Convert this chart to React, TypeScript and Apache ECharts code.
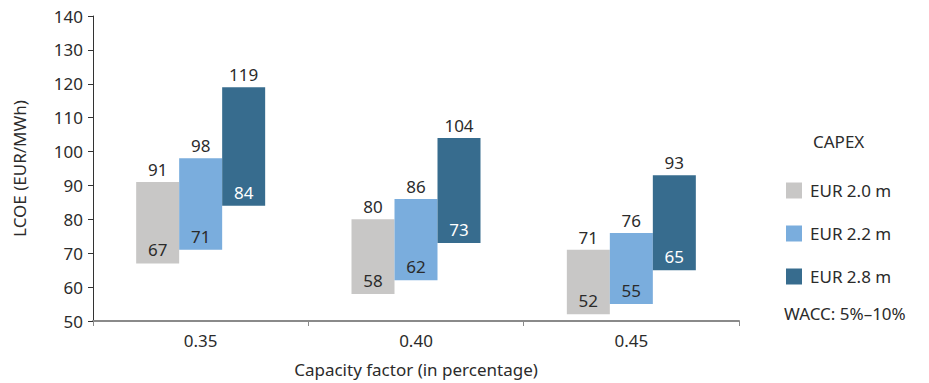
import React, { useEffect, useRef } from "react";
import * as echarts from "echarts";

const categories = ["0.35", "0.40", "0.45"];
const seriesNames = ["EUR 2.0 m", "EUR 2.2 m", "EUR 2.8 m"];
const lowValues = [
  [67, 58, 52],
  [71, 62, 55],
  [84, 73, 65],
];
const highValues = [
  [91, 80, 71],
  [98, 86, 76],
  [119, 104, 93],
];
const colors = ["#C8C7C6", "#7AADDD", "#376C8E"];
const insideLabelColors = ["#2b2b2b", "#2b2b2b", "#ffffff"];

const FONT = "'Noto Sans', sans-serif";
const TXT = "#2b2b2b";
const FS = 17;

export default function App() {
  const ref = useRef<HTMLDivElement>(null);
  useEffect(() => {
    document.body.style.margin = "0";
    if (!ref.current) return;
    const chart = echarts.init(ref.current, undefined, { renderer: "svg" });
    const series: any[] = [];
    seriesNames.forEach((name, i) => {
      const stack = "s" + i;
      series.push({
        name: "base" + i,
        type: "bar",
        stack,
        barWidth: 43,
        barGap: "0%",
        itemStyle: { color: "transparent" },
        emphasis: { disabled: true },
        data: lowValues[i],
        z: 1,
      });
      series.push({
        name,
        type: "bar",
        stack,
        barWidth: 43,
        barGap: "0%",
        itemStyle: { color: colors[i] },
        data: highValues[i].map((h, j) => h - lowValues[i][j]),
        label: {
          show: true,
          position: "insideBottom",
          distance: 5,
          fontFamily: FONT,
          fontSize: FS,
          color: insideLabelColors[i],
          formatter: (p: any) => String(lowValues[i][p.dataIndex]),
        },
      });
      series.push({
        name: "cap" + i,
        type: "bar",
        stack,
        barWidth: 43,
        barGap: "0%",
        itemStyle: { color: "transparent" },
        data: highValues[i].map(() => 0),
        label: {
          show: true,
          position: "top",
          distance: 4,
          fontFamily: FONT,
          fontSize: FS,
          color: TXT,
          formatter: (p: any) => String(highValues[i][p.dataIndex]),
        },
      });
    });
    chart.setOption({
      animation: false,
      textStyle: { fontFamily: FONT },
      grid: { left: 93, right: 190, top: 16, bottom: 61, containLabel: false },
      legend: {
        data: seriesNames,
        orient: "vertical",
        left: 781,
        top: 177,
        itemWidth: 16,
        itemHeight: 16,
        itemGap: 26,
        icon: "rect",
        textStyle: { fontFamily: FONT, fontSize: FS, color: TXT, padding: [0, 0, 0, 3] },
        selectedMode: false,
      },
      graphic: [
        {
          type: "text",
          left: 813,
          top: 133,
          style: { text: "CAPEX", font: `${FS}px ${FONT}`, fill: TXT },
        },
        {
          type: "text",
          left: 784,
          top: 305,
          style: { text: "WACC: 5%\u201310%", font: `${FS}px ${FONT}`, fill: TXT },
        },
      ],
      xAxis: {
        type: "category",
        data: categories,
        name: "Capacity factor (in percentage)",
        nameLocation: "middle",
        nameGap: 40,
        nameTextStyle: { fontFamily: FONT, fontSize: FS, color: TXT },
        axisLine: { lineStyle: { color: "#8a8a8a", width: 2 } },
        axisTick: { show: true, length: 5, lineStyle: { color: "#8a8a8a" } },
        axisLabel: { fontFamily: FONT, fontSize: FS, color: TXT, margin: 11 },
      },
      yAxis: {
        type: "value",
        min: 50,
        max: 140,
        interval: 10,
        name: "LCOE (EUR/MWh)",
        nameLocation: "middle",
        nameGap: 65,
        nameRotate: 90,
        nameTextStyle: { fontFamily: FONT, fontSize: FS, color: TXT },
        axisLine: { show: true, lineStyle: { color: "#333333" } },
        axisTick: { show: true, length: 5, lineStyle: { color: "#333333" } },
        axisLabel: { fontFamily: FONT, fontSize: FS, color: TXT, margin: 10 },
        splitLine: { show: false },
      },
      series,
    });
    return () => chart.dispose();
  }, []);
  return <div ref={ref} style={{ width: 929, height: 383 }} />;
}
